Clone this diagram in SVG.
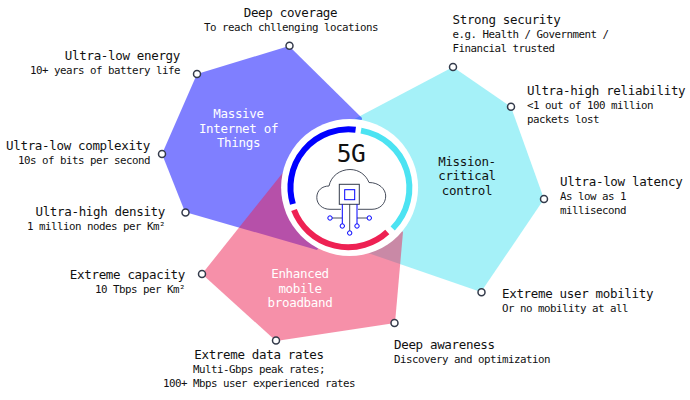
<svg xmlns="http://www.w3.org/2000/svg" width="690" height="400" viewBox="0 0 690 400">
<style>
text{font-family:"DejaVu Sans Mono","Liberation Mono",monospace;fill:#111}
.t{font-size:12.5px;letter-spacing:-.33px}
.s{font-size:10.8px;letter-spacing:-.5px}
.w{font-size:12.5px;letter-spacing:-.33px;fill:#fff;text-anchor:middle}
.m{font-size:12.5px;letter-spacing:-.33px;fill:#111;text-anchor:middle}
.e{text-anchor:end}
.c{text-anchor:middle}
.dot{fill:#fff;stroke:#333a4a;stroke-width:1.5}
.arc{fill:none;stroke-width:6}
.ic{fill:none;stroke:#333a4a;stroke-width:.9}
.ib{fill:#fff;stroke:#0000ff;stroke-width:1}
.il{fill:none;stroke:#0000ff;stroke-width:1}
</style>
<g id="areas">
<polygon id="area-mission" points="453,67 511,107 544,199 481,292 368,253 345,200 345,124" fill="#4ce3f2" fill-opacity=".5"/>
<polygon id="area-iot" points="289,46 197,74 162,154 185,212 317,250 350,200 362,118" fill="#0000ff" fill-opacity=".5"/>
<polygon id="area-embb" points="202,274 276,341 395,323 403,232 350,180 285,170" fill="#ee2153" fill-opacity=".5"/>
</g>
<g id="hub">
<circle cx="349.6" cy="187.500" r="68.500" fill="#fff"/>
<path class="arc" stroke="#0000ff" d="M292.900 204 A58 58 0 0 1 355.600 129.800"/>
<path class="arc" stroke="#4ce3f2" d="M361 130.600 A58 58 0 0 1 392.700 228.500"/>
<path class="arc" stroke="#ee2153" d="M294 210 A58 58 0 0 0 387.300 232"/>
<text x="351" y="162" text-anchor="middle" style="font-size:24.500px;letter-spacing:-.6px">5G</text>
<path class="ic" d="M330 209.300 C322 209.300 316.800 204 316.800 197.500 C316.800 190.500 322 186 329 186 C331 176 340 169.500 350 169.500 C359 169.500 366 175 369 182.500 C379 182.500 385.700 189 385.700 196 C385.700 203.500 380 209.300 372 209.300 H358 M341 209.300 H330"/>
<rect x="339.300" y="184.300" width="20" height="20" fill="#fff" stroke="#333a4a" stroke-width="1"/>
<rect x="344.700" y="189.700" width="10" height="10" class="ib"/>
<path class="ic" d="M349.700 204 V231 M332 218 H342 M357 218 H367.300"/>
<path class="il" d="M342.300 204.300 V224 M357 204.300 V224"/>
<circle class="ib" cx="330" cy="218" r="2.200"/>
<circle class="ib" cx="369.300" cy="218" r="2.200"/>
<circle class="ib" cx="342.300" cy="226" r="2.200"/>
<circle class="ib" cx="357" cy="226" r="2.200"/>
<circle class="ib" cx="349.700" cy="233" r="2.200"/>
</g>
<g id="area-labels">
<text class="w" x="238.500" y="118">Massive</text>
<text class="w" x="238.500" y="133">Internet of</text>
<text class="w" x="238.500" y="147">Things</text>
<text class="m" x="467" y="166">Mission-</text>
<text class="m" x="467" y="180">critical</text>
<text class="m" x="467" y="195">control</text>
<text class="w" x="300" y="278">Enhanced</text>
<text class="w" x="300" y="293">mobile</text>
<text class="w" x="300" y="307">broadband</text>
</g>
<g id="connectors"></g>
<g id="node-coverage"><circle class="dot" cx="289.500" cy="45.700" r="3.500"/><text class="t c" x="290.500" y="17">Deep coverage</text><text class="s c" x="291" y="31">To reach chllenging locations</text></g>
<g id="node-energy"><circle class="dot" cx="197" cy="74" r="3.500"/><text class="t e" x="180" y="60">Ultra-low energy</text><text class="s e" x="180" y="74">10+ years of battery life</text></g>
<g id="node-complexity"><circle class="dot" cx="162" cy="154" r="3.500"/><text class="t e" x="150" y="150">Ultra-low complexity</text><text class="s e" x="150" y="164">10s of bits per second</text></g>
<g id="node-density"><circle class="dot" cx="185.500" cy="212.500" r="3.500"/><text class="t e" x="165" y="216">Ultra-high density</text><text class="s e" x="165" y="230">1 million nodes per Km²</text></g>
<g id="node-capacity"><circle class="dot" cx="202" cy="274" r="3.500"/><text class="t e" x="185" y="279">Extreme capacity</text><text class="s e" x="185" y="293">10 Tbps per Km²</text></g>
<g id="node-rates"><circle class="dot" cx="276" cy="340.500" r="3.500"/><text class="t c" x="259" y="359">Extreme data rates</text><text class="s c" x="259" y="373">Multi-Gbps peak rates;</text><text class="s c" x="259" y="387">100+ Mbps user experienced rates</text></g>
<g id="node-awareness"><circle class="dot" cx="394.500" cy="323" r="3.500"/><text class="t" x="394" y="349">Deep awareness</text><text class="s" x="394" y="363">Discovery and optimization</text></g>
<g id="node-mobility"><circle class="dot" cx="481.500" cy="292.300" r="3.500"/><text class="t" x="502" y="298">Extreme user mobility</text><text class="s" x="502" y="312">Or no mobility at all</text></g>
<g id="node-latency"><circle class="dot" cx="544" cy="199" r="3.500"/><text class="t" x="560" y="186">Ultra-low latency</text><text class="s" x="560" y="200">As low as 1</text><text class="s" x="560" y="214">millisecond</text></g>
<g id="node-reliability"><circle class="dot" cx="511" cy="106.700" r="3.500"/><text class="t" x="527" y="95">Ultra-high reliability</text><text class="s" x="527" y="109">&lt;1 out of 100 million</text><text class="s" x="527" y="123">packets lost</text></g>
<g id="node-security"><circle class="dot" cx="453" cy="67" r="3.500"/><text class="t" x="452.500" y="24">Strong security</text><text class="s" x="452.500" y="38">e.g. Health / Government /</text><text class="s" x="452.500" y="52">Financial trusted</text></g>
</svg>
